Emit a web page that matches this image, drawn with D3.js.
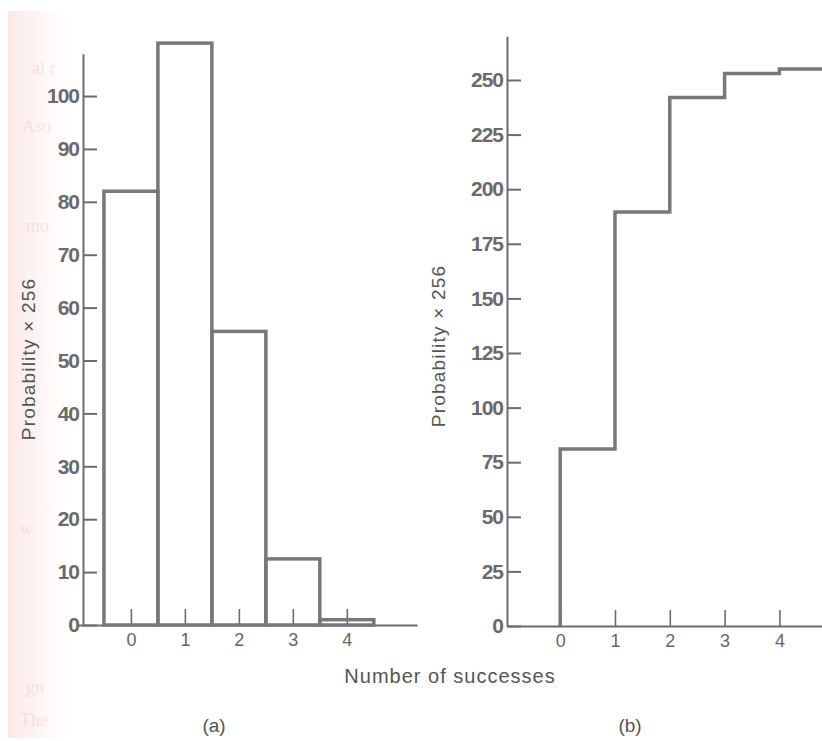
<!DOCTYPE html>
<html>
<head>
<meta charset="utf-8">
<script src="https://cdn.jsdelivr.net/npm/d3@7"></script>
<style>
  body { margin: 0; background: #fff; }
  svg { display: block; }
  text { font-family: "Liberation Sans", Arial, Helvetica, sans-serif; fill: #555; }
</style>
</head>
<body>
<svg id="chart" width="822" height="741"></svg>
<script>
// (a) probability of each number of successes, x 256
var successes = [0, 1, 2, 3, 4];
var probA = [82, 110, 55.5, 12.5, 1];
var ticksA = [0, 10, 20, 30, 40, 50, 60, 70, 80, 90, 100];

// (b) cumulative probability x 256
var cumB = [81, 189.5, 242, 253, 255];
var ticksB = [0, 25, 50, 75, 100, 125, 150, 175, 200, 225, 250];

var yLabel = "Probability \u00d7 256";
var xLabel = "Number of successes";

var lineCol = "#787878";
var axisCol = "#6c6c6c";

var svg = d3.select("#chart");

// pinkish edge of the scanned page
var grad = svg.append("defs").append("linearGradient")
    .attr("id", "edge").attr("x1", "0").attr("x2", "1");
grad.append("stop").attr("offset", "0").attr("stop-color", "#f9d9d9").attr("stop-opacity", 0.6);
grad.append("stop").attr("offset", "0.45").attr("stop-color", "#fbe4e4").attr("stop-opacity", 0.4);
grad.append("stop").attr("offset", "1").attr("stop-color", "#fff").attr("stop-opacity", 0);
svg.append("rect").attr("x", 8).attr("y", 11).attr("width", 68).attr("height", 727)
    .attr("fill", "url(#edge)");

// ghost letters showing through from the other side
var ghost = [["al  r", 32, 74], ["Aso", 22, 132], ["mo", 26, 232],
             ["w", 20, 535], ["gn", 26, 693], ["The", 20, 726]];
svg.selectAll("text.ghost").data(ghost).enter().append("text")
    .attr("class", "ghost")
    .attr("x", function(d){ return d[1]; })
    .attr("y", function(d){ return d[2]; })
    .style("fill", "#f0b4b4").style("opacity", 0.3)
    .style("font-family", "Liberation Serif, serif").style("font-size", "18px")
    .text(function(d){ return d[0]; });

// ---------- panel (a) ----------
var xA = d3.scaleLinear().domain([-0.98, 5.3]).range([78, 417]);
var yA = d3.scaleLinear().domain([0, 108]).range([625, 53.7]);
var gA = svg.append("g");

gA.append("g")
    .attr("transform", "translate(0," + yA(0) + ")")
    .call(d3.axisBottom(xA).tickValues(successes).tickFormat(d3.format("d"))
        .tickSizeInner(-16).tickSizeOuter(0).tickPadding(8))
    .call(styleXAxis);

gA.append("g")
    .attr("transform", "translate(83,0)")
    .call(d3.axisLeft(yA).tickValues(ticksA)
        .tickSizeInner(-14).tickSizeOuter(0).tickPadding(4))
    .call(styleYAxis);

gA.selectAll("rect.bar").data(successes).enter().append("rect")
    .attr("class", "bar")
    .attr("x", function(d){ return xA(d - 0.5); })
    .attr("width", function(){ return xA(0.5) - xA(-0.5); })
    .attr("y", function(d, i){ return yA(probA[i]); })
    .attr("height", function(d, i){ return yA(0) - yA(probA[i]); })
    .attr("fill", "none")
    .attr("stroke", lineCol)
    .attr("stroke-width", 3.5);

gA.append("text")
    .attr("transform", "translate(35,359) rotate(-90)")
    .attr("text-anchor", "middle")
    .style("font-size", "19px").style("letter-spacing", "1.2px")
    .text(yLabel);

svg.append("text")
    .attr("x", 214).attr("y", 732)
    .attr("text-anchor", "middle")
    .style("font-size", "19px")
    .text("(a)");

// ---------- panel (b) ----------
var xB = d3.scaleLinear().domain([-0.97, 4.85]).range([507, 826]);
var yB = d3.scaleLinear().domain([0, 270]).range([626, 36.3]);
var gB = svg.append("g");

gB.append("g")
    .attr("transform", "translate(0," + yB(0) + ")")
    .call(d3.axisBottom(xB).tickValues(successes).tickFormat(d3.format("d"))
        .tickSizeInner(-16).tickSizeOuter(0).tickPadding(8))
    .call(styleXAxis);

gB.append("g")
    .attr("transform", "translate(507,0)")
    .call(d3.axisLeft(yB).tickValues(ticksB)
        .tickSizeInner(-14).tickSizeOuter(0).tickPadding(4))
    .call(styleYAxis);

var stepPts = [[0, 0]].concat(successes.map(function(d, i){ return [d, cumB[i]]; }));
stepPts.push([4.9, cumB[cumB.length - 1]]);

gB.append("path")
    .datum(stepPts)
    .attr("fill", "none")
    .attr("stroke", lineCol)
    .attr("stroke-width", 3.5)
    .attr("d", d3.line()
        .x(function(d){ return xB(d[0]); })
        .y(function(d){ return yB(d[1]); })
        .curve(d3.curveStepAfter));

gB.append("text")
    .attr("transform", "translate(445,346) rotate(-90)")
    .attr("text-anchor", "middle")
    .style("font-size", "19px").style("letter-spacing", "1.2px")
    .text(yLabel);

svg.append("text")
    .attr("x", 630).attr("y", 732)
    .attr("text-anchor", "middle")
    .style("font-size", "19px")
    .text("(b)");

// shared x label
svg.append("text")
    .attr("x", 450).attr("y", 683)
    .attr("text-anchor", "middle")
    .style("font-size", "20px").style("letter-spacing", "1px")
    .text(xLabel);

function styleYAxis(g) {
  g.select(".domain").attr("stroke", axisCol).attr("stroke-width", 2);
  g.selectAll(".tick line").attr("stroke", axisCol).attr("stroke-width", 2);
  g.selectAll(".tick text")
      .style("font-size", "21px")
      .style("font-weight", "bold")
      .style("fill", "#6a6a6a")
      .style("letter-spacing", "-1px");
}

function styleXAxis(g) {
  g.select(".domain").attr("stroke", axisCol).attr("stroke-width", 2);
  g.selectAll(".tick line").attr("stroke", axisCol).attr("stroke-width", 1.6);
  g.selectAll(".tick text")
      .style("font-size", "18px")
      .style("fill", "#666");
}
</script>
</body>
</html>
